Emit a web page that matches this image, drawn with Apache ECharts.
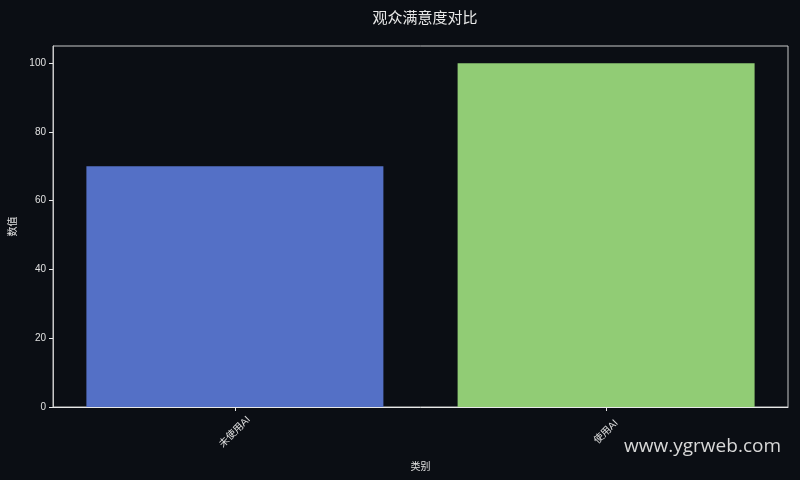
<!DOCTYPE html>
<html lang="zh">
<head>
    <meta charset="UTF-8">
    <title>观众满意度对比</title>
    <script src="https://cdn.jsdelivr.net/npm/echarts@6/dist/echarts.min.js"></script>
    <style>
        html, body { margin: 0; padding: 0; background: #0b0e14; }
        #main { width: 800px; height: 480px; }
    </style>
</head>
<body>
<div id="main"></div>
<script>
    // 数据
    var categories = ['未使用AI', '使用AI'];
    var values = [70, 100];
    var barColors = ['#5470c6', '#91cc75'];
    var yTicks = [0, 20, 40, 60, 80, 100];

    var font = '"Liberation Sans", "Noto Sans CJK SC", sans-serif';
    var myChart = echarts.init(document.getElementById('main'));
    var option = {
        backgroundColor: '#0b0e14',
        animation: false,
        title: {
            text: '观众满意度对比',
            left: 420,
            top: 5,
            textAlign: 'center',
            textStyle: { color: '#e8e8e8', fontSize: 15, fontWeight: 'normal', fontFamily: '"Noto Sans CJK SC", sans-serif' }
        },
        grid: {
            left: 52, right: 12, top: 46, bottom: 73,
            show: true,
            borderColor: '#c8c8c8',
            borderWidth: 1,
            containLabel: false
        },
        xAxis: {
            // 类别轴用数值轴模拟，两侧留出与原图一致的边距
            type: 'value',
            min: -0.49,
            max: 1.49,
            name: '类别',
            nameLocation: 'middle',
            nameGap: 55,
            nameTextStyle: { color: '#e0e0e0', fontSize: 10, fontFamily: font },
            axisLine: { onZero: false, lineStyle: { color: '#e8e8e8', width: 1 } },
            axisTick: { show: true, length: 4, customValues: [0, 1], lineStyle: { color: '#e8e8e8' } },
            axisLabel: {
                rotate: 45, color: '#e0e0e0', fontSize: 10, margin: 25,
                align: 'center', verticalAlign: 'middle',
                customValues: [0, 1],
                formatter: function (v) { return categories[Math.round(v)]; },
                fontFamily: font
            },
            splitLine: { show: false }
        },
        yAxis: {
            type: 'value',
            min: 0,
            max: 105,
            interval: 20,
            name: '数值',
            nameLocation: 'middle',
            nameGap: 35,
            nameTextStyle: { color: '#e0e0e0', fontSize: 10, fontFamily: font },
            axisLine: { show: true, onZero: false, lineStyle: { color: '#c8c8c8', width: 1 } },
            axisTick: { show: true, length: 4, customValues: yTicks, lineStyle: { color: '#e8e8e8' } },
            axisLabel: { color: '#e0e0e0', fontSize: 10, margin: 7, customValues: yTicks, fontFamily: font },
            splitLine: { show: false }
        },
        series: [
            {
                type: 'bar',
                barWidth: 297,
                data: values.map(function (v, i) {
                    return { value: [i, v], itemStyle: { color: barColors[i] } };
                })
            }
        ],
        graphic: [
            {
                type: 'text',
                right: 19,
                top: 437,
                style: {
                    text: 'www.ygrweb.com',
                    fill: '#d8d8d8',
                    font: '19px "Open Sans", "Noto Sans", sans-serif'
                }
            }
        ]
    };
    myChart.setOption(option);
</script>
</body>
</html>
